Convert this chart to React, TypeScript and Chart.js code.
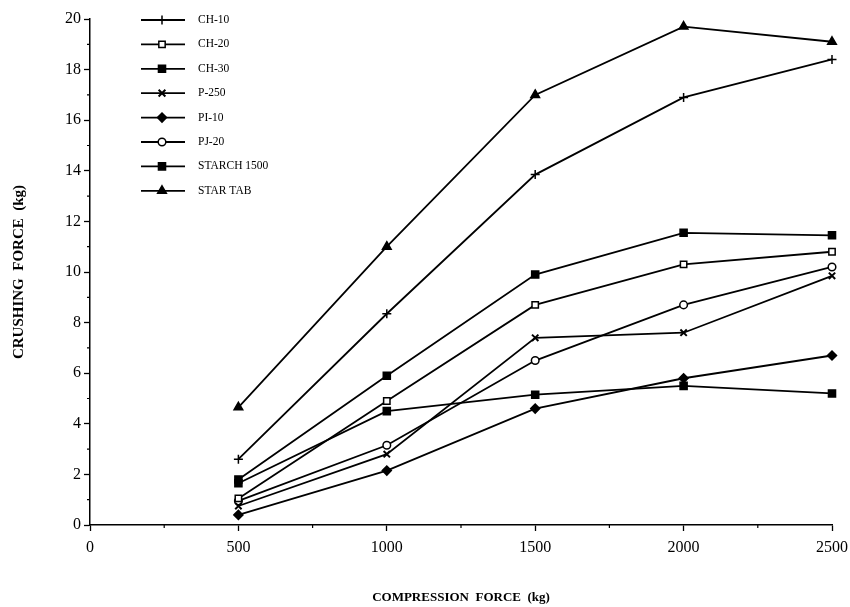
import React, { useEffect, useRef } from 'react';
import { Chart, registerables } from 'chart.js';

Chart.register(...registerables);

// ---- data ----
const compressionForce = [500, 1000, 1500, 2000, 2500];
const seriesLabels = ['CH-10', 'CH-20', 'CH-30', 'P-250', 'PI-10', 'PJ-20', 'STARCH 1500', 'STAR TAB'];
const ch10 = [2.6, 8.35, 13.85, 16.9, 18.4];
const ch20 = [1.05, 4.9, 8.7, 10.3, 10.8];
const ch30 = [1.65, 4.5, 5.15, 5.5, 5.2];
const p250 = [0.75, 2.8, 7.4, 7.6, 9.85];
const pi10 = [0.4, 2.15, 4.6, 5.8, 6.7];
const pj20 = [0.95, 3.15, 6.5, 8.7, 10.2];
const starch1500 = [1.8, 5.9, 9.9, 11.55, 11.45];
const starTab = [4.65, 11.0, 17.0, 19.7, 19.1];
const seriesValues = [ch10, ch20, ch30, p250, pi10, pj20, starch1500, starTab];
const xTitle = 'COMPRESSION  FORCE  (kg)';
const yTitle = 'CRUSHING  FORCE  (kg)';

// ---- styles ----
type Mk = { style: string; r: number; fill: string };
const markers: Mk[] = [
  { style: 'cross', r: 4.5, fill: '#000' },
  { style: 'rect', r: 4.5, fill: '#fff' },
  { style: 'rect', r: 5, fill: '#000' },
  { style: 'crossRot', r: 4.5, fill: '#000' },
  { style: 'rectRot', r: 4.5, fill: '#000' },
  { style: 'circle', r: 3.8, fill: '#fff' },
  { style: 'rect', r: 5, fill: '#000' },
  { style: 'triangle', r: 5, fill: '#000' },
];
const FONT = '"Liberation Serif", "Times New Roman", serif';

function drawMarker(ctx: CanvasRenderingContext2D, m: Mk, x: number, y: number) {
  const r = m.r;
  ctx.save();
  ctx.strokeStyle = '#000';
  ctx.fillStyle = m.fill;
  ctx.lineWidth = 1.5;
  ctx.beginPath();
  if (m.style === 'cross') {
    ctx.moveTo(x - r, y); ctx.lineTo(x + r, y);
    ctx.moveTo(x, y - r); ctx.lineTo(x, y + r);
    ctx.stroke();
  } else if (m.style === 'crossRot') {
    const d = r * 0.75;
    ctx.lineWidth = 2;
    ctx.moveTo(x - d, y - d); ctx.lineTo(x + d, y + d);
    ctx.moveTo(x + d, y - d); ctx.lineTo(x - d, y + d);
    ctx.stroke();
  } else if (m.style === 'rect') {
    const s = r * Math.SQRT1_2;
    ctx.rect(x - s, y - s, 2 * s, 2 * s);
    ctx.fill(); ctx.stroke();
  } else if (m.style === 'rectRot') {
    ctx.moveTo(x, y - r); ctx.lineTo(x + r, y); ctx.lineTo(x, y + r); ctx.lineTo(x - r, y);
    ctx.closePath(); ctx.fill(); ctx.stroke();
  } else if (m.style === 'circle') {
    ctx.arc(x, y, r, 0, Math.PI * 2);
    ctx.fill(); ctx.stroke();
  } else if (m.style === 'triangle') {
    ctx.moveTo(x, y - r); ctx.lineTo(x + r * 0.87, y + r * 0.5); ctx.lineTo(x - r * 0.87, y + r * 0.5);
    ctx.closePath(); ctx.fill(); ctx.stroke();
  }
  ctx.restore();
}

const legendPlugin = {
  id: 'paperLegend',
  afterDraw(chart: any) {
    const ctx: CanvasRenderingContext2D = chart.ctx;
    ctx.save();
    chart.data.datasets.forEach((ds: any, i: number) => {
      const y = 20 + i * 24.4;
      ctx.strokeStyle = '#000';
      ctx.lineWidth = 1.8;
      ctx.beginPath();
      ctx.moveTo(141, y);
      ctx.lineTo(185, y);
      ctx.stroke();
      drawMarker(ctx, markers[i], 162, y);
      ctx.fillStyle = '#000';
      ctx.font = '11.5px ' + FONT;
      ctx.textBaseline = 'middle';
      ctx.textAlign = 'left';
      ctx.fillText(ds.label, 198, y);
    });
    const xs = chart.scales.x;
    const ys = chart.scales.y;
    ctx.strokeStyle = '#000';
    ctx.lineWidth = 1.2;
    ctx.beginPath();
    for (let v = 1; v < 20; v += 2) {
      const py = ys.getPixelForValue(v);
      ctx.moveTo(xs.left - 3, py);
      ctx.lineTo(xs.left, py);
    }
    for (let v = 250; v < 2500; v += 500) {
      const px = xs.getPixelForValue(v);
      ctx.moveTo(px, ys.bottom);
      ctx.lineTo(px, ys.bottom + 3);
    }
    ctx.stroke();
    ctx.restore();
  },
};

export default function App() {
  const ref = useRef<HTMLCanvasElement>(null);
  useEffect(() => {
    const canvas = ref.current!;
    const datasets = seriesLabels.map((label, i) => ({
      label,
      data: compressionForce.map((x, j) => ({ x, y: seriesValues[i][j] })),
      borderColor: '#000',
      borderWidth: 1.8,
      pointStyle: markers[i].style as any,
      pointRadius: markers[i].r,
      pointBackgroundColor: markers[i].fill,
      pointBorderColor: '#000',
      pointBorderWidth: markers[i].style === 'crossRot' ? 2 : 1.5,
      fill: false,
      tension: 0,
      clip: false as any,
    }));
    const chart = new Chart(canvas, {
      type: 'line',
      data: { datasets },
      options: {
        responsive: false,
        animation: false,
        devicePixelRatio: 1,
        layout: { padding: { left: 0, top: 19, right: 18, bottom: 0 } },
        plugins: { legend: { display: false }, tooltip: { enabled: false } },
        scales: {
          x: {
            type: 'linear',
            min: 0,
            max: 2500,
            ticks: {
              stepSize: 500, color: '#000', font: { family: FONT, size: 16 }, padding: 7, maxRotation: 0,
              callback: (v: any) => String(v),
            },
            grid: { drawOnChartArea: false, drawTicks: true, tickLength: 6, tickColor: '#000', tickWidth: 1.3 },
            border: { display: true, color: '#000', width: 1.5 },
            title: { display: true, text: xTitle, color: '#000', font: { family: FONT, size: 13, weight: 'bold' }, padding: { top: 0, bottom: 2 } },
            afterFit: (s: any) => { s.height = 82; s.paddingRight = 10; s.paddingLeft = 0; },
          },
          y: {
            type: 'linear',
            min: 0,
            max: 20,
            ticks: { stepSize: 2, color: '#000', font: { family: FONT, size: 16 }, padding: 3, callback: (v: any) => String(v) },
            grid: { drawOnChartArea: false, drawTicks: true, tickLength: 6, tickColor: '#000', tickWidth: 1.3 },
            border: { display: true, color: '#000', width: 1.5 },
            title: { display: true, text: yTitle, color: '#000', font: { family: FONT, size: 15, weight: 'bold' }, padding: { top: 10, bottom: 0 } },
            afterFit: (s: any) => { s.width = 90; s.paddingTop = 0; s.paddingBottom = 0; },
          },
        },
      },
      plugins: [legendPlugin],
    });
    return () => chart.destroy();
  }, []);
  return (
    <div style={{ position: 'fixed', left: 0, top: 0, width: 850, height: 607, background: '#fff' }}>
      <canvas ref={ref} width={850} height={607} style={{ width: 850, height: 607 }} />
    </div>
  );
}
